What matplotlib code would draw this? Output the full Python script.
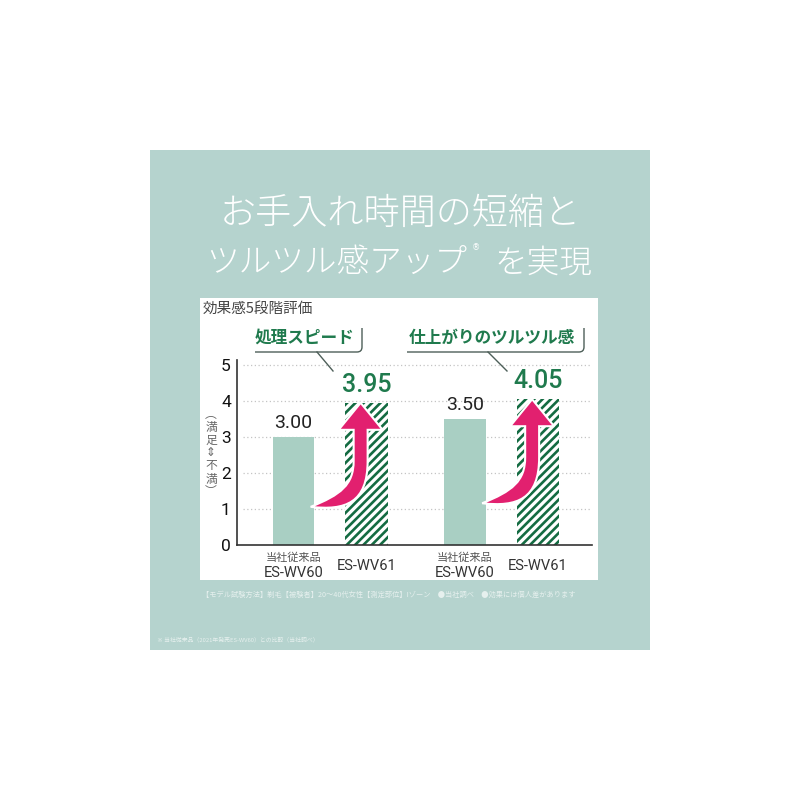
import matplotlib
matplotlib.use("Agg")
import matplotlib.pyplot as plt
from matplotlib.patches import Rectangle, PathPatch
from matplotlib.path import Path

plt.rcParams['font.family'] = ['Noto Sans CJK JP', 'DejaVu Sans']
plt.rcParams['hatch.linewidth'] = 1.9

# --- data ---
maker_note = ['当社従来品', '', '当社従来品', '']
models = ['ES-WV60', 'ES-WV61', 'ES-WV60', 'ES-WV61']
scores = [3.00, 3.95, 3.50, 4.05]
score_labels = ['3.00', '3.95', '3.50', '4.05']
is_new = [False, True, False, True]
callouts = ['処理スピード', '仕上がりのツルツル感']
yticks = [0, 1, 2, 3, 4, 5]
xpos = [0, 1, 2.35, 3.35]

PANEL = '#b5d3ce'
LIGHT = '#a9cfc3'
GREEN = '#146b42'
TEXT_GREEN = '#1f7a4d'
PINK = '#e2206f'

W = H = 800
fig = plt.figure(figsize=(8, 8), dpi=100)
fig.patch.set_facecolor('white')

# background: teal panel + white chart box + title
bg = fig.add_axes([0, 0, 1, 1], zorder=0)
bg.set_xlim(0, W)
bg.set_ylim(H, 0)
bg.axis('off')
bg.add_patch(Rectangle((150, 150), 500, 500, facecolor=PANEL, edgecolor='none'))
bg.add_patch(Rectangle((200, 298), 398, 282, facecolor='white', edgecolor='none'))

bg.text(400, 214, 'お手入れ時間の短縮と', ha='center', va='center',
        fontsize=26, color='white', fontweight='light')
bg.text(467, 263, 'ツルツル感アップ', ha='right', va='center',
        fontsize=23.5, color='white', fontweight='light')
bg.text(476, 248, '®', ha='center', va='center', fontsize=6, color='white',
        family=['DejaVu Sans'])
bg.text(494, 263, 'を実現', ha='left', va='center',
        fontsize=23.5, color='white', fontweight='light')

bg.text(203, 309, '効果感5段階評価', ha='left', va='center', fontsize=10.5, color='#444444')
bg.text(211, 453, '︵\n満\n足\n⇕\n不\n満\n︶', ha='center', va='center',
        fontsize=8.5, color='#666666', linespacing=1.0)

bg.text(202, 595, '【モデル試験方法】剃毛【被験者】20〜40代女性【測定部位】Iゾーン　●当社調べ　●効果には個人差があります',
        ha='left', va='center', fontsize=5.2, color='#e6f0ee')
bg.text(157, 640, '※ 当社従来品（2021年発売ES-WV60）との比較（当社調べ）',
        ha='left', va='center', fontsize=4.2, color='#e6f0ee')

# --- bar chart ---
x0, x1, y0, ytop = 237, 592, 545, 360
ax = fig.add_axes([x0 / W, 1 - y0 / H, (x1 - x0) / W, (y0 - ytop) / H], zorder=1)
ax.patch.set_alpha(0)
ax.set_xlim(-0.774, 4.09)
ax.set_ylim(0, 5.14)

ax.hlines(yticks[1:], -0.69, 4.09, colors='#c4c4c4', linestyles=(0, (1, 2)), linewidth=0.9, zorder=1)

for x, v, lab, new in zip(xpos, scores, score_labels, is_new):
    if new:
        ax.bar(x, v, width=0.58, facecolor='white', edgecolor=GREEN, hatch='////',
               linewidth=0, zorder=2)
        ax.text(x, v + 0.5, lab, ha='center', va='center', fontsize=18,
                color=TEXT_GREEN, fontweight='medium', family=['Roboto', 'DejaVu Sans'])
    else:
        ax.bar(x, v, width=0.57, color=LIGHT, linewidth=0, zorder=2)
        ax.text(x, v + 0.38, lab, ha='center', va='center', fontsize=14,
                color='#222222', family=['Roboto', 'DejaVu Sans'])

for x, note, model in zip(xpos, maker_note, models):
    if note:
        ax.text(x, -0.36, note, ha='center', va='center', fontsize=8, color='#555555', clip_on=False)
        ax.text(x, -0.79, model, ha='center', va='center', fontsize=10.5, color='#333333',
                family=['Roboto', 'DejaVu Sans'], clip_on=False)
    else:
        ax.text(x, -0.58, model, ha='center', va='center', fontsize=10.5, color='#333333',
                family=['Roboto', 'DejaVu Sans'], clip_on=False)

ax.set_yticks(yticks)
ax.set_yticklabels([str(t) for t in yticks], fontsize=12.5, family=['Roboto', 'DejaVu Sans'])
ax.set_xticks([])
ax.tick_params(axis='y', length=0, pad=4.5, colors='#111111')
for s in ['top', 'right']:
    ax.spines[s].set_visible(False)
for s in ['left', 'bottom']:
    ax.spines[s].set_color('#333333')
    ax.spines[s].set_linewidth(1.2)

# --- overlay: callouts and pink arrows, pixel coords ---
fg = fig.add_axes([0, 0, 1, 1], zorder=2)
fg.set_xlim(0, W)
fg.set_ylim(H, 0)
fg.axis('off')
fg.patch.set_alpha(0)

line_c = '#4d5f59'
for text, (tx, lx0, lx1, dx0, dx1) in zip(callouts, [(305, 255, 362, 317, 333),
                                                     (492, 407, 584, 488, 507)]):
    fg.text(tx, 338, text, ha='center', va='center', fontsize=12, color=TEXT_GREEN,
            fontweight='bold')
    verts = [(lx0, 352), (lx1 - 5, 352), (lx1, 352), (lx1, 347), (lx1, 328)]
    codes = [Path.MOVETO, Path.LINETO, Path.CURVE3, Path.CURVE3, Path.LINETO]
    fg.add_patch(PathPatch(Path(verts, codes), facecolor='none', edgecolor=line_c, linewidth=1.0))
    fg.plot([dx0, dx1], [352, 371], color=line_c, linewidth=1.0)

arrow_rel = [(0, 0), (22, 27), (7, 27), (7, 58),
             (7, 100), (-15, 108), (-50, 104),
             (-20, 92), (-7, 82), (-7, 58),
             (-7, 27), (-22, 27), (0, 0)]
arrow_codes = [Path.MOVETO, Path.LINETO, Path.LINETO, Path.LINETO,
               Path.CURVE4, Path.CURVE4, Path.CURVE4,
               Path.CURVE4, Path.CURVE4, Path.CURVE4,
               Path.LINETO, Path.LINETO, Path.CLOSEPOLY]
for x, v, new in zip(xpos, scores, is_new):
    if not new:
        continue
    px, py = ax.transData.transform((x - 0.08, v))
    tipx, tipy = px, H - py
    verts = [(tipx + dx, tipy + dy) for dx, dy in arrow_rel]
    fg.add_patch(PathPatch(Path(verts, arrow_codes), facecolor=PINK, edgecolor='white',
                           linewidth=1.5, joinstyle='miter'))

fig.savefig('out.png', dpi=100)
